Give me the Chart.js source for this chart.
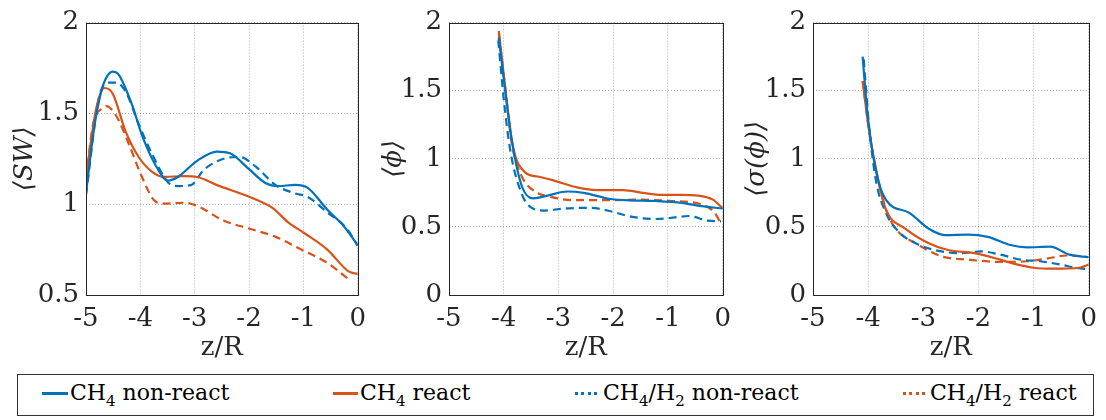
<!DOCTYPE html>
<html><head><meta charset="utf-8">
<script src="https://cdn.jsdelivr.net/npm/chart.js@4.4.1/dist/chart.umd.min.js"></script>
<style>
html,body{margin:0;padding:0;background:#fff;}
#wrap{position:relative;width:1106px;height:420px;overflow:hidden;background:#fff;font-family:'DejaVu Serif',serif;color:#000;}
.pane{position:absolute;top:0;}
#legend{position:absolute;left:17px;top:374px;width:1077px;height:42px;box-sizing:border-box;border:1px solid #333;}
.sample{position:absolute;height:3px;}
.txt{position:absolute;top:381.7px;font-size:22px;line-height:22px;white-space:nowrap;}
.sub{font-size:15px;position:relative;top:6px;line-height:0;}
</style></head>
<body>
<div id="wrap">
  <div class="pane" style="left:0;width:375px;height:370px"><canvas id="c1" width="375" height="370"></canvas></div>
  <div class="pane" style="left:375px;width:365px;height:370px"><canvas id="c2" width="365" height="370"></canvas></div>
  <div class="pane" style="left:740px;width:366px;height:370px"><canvas id="c3" width="366" height="370"></canvas></div>
  <div id="legend"></div>
  <div class="sample" style="left:42px;top:391.5px;width:26px;background:#0072BD"></div>
  <div class="txt" style="left:70px">CH<span class="sub">4</span> non-react</div>
  <div class="sample" style="left:333px;top:391.5px;width:25px;background:#D95319"></div>
  <div class="txt" style="left:360px">CH<span class="sub">4</span> react</div>
  <div class="sample" style="left:575px;top:391.5px;width:25px;background:repeating-linear-gradient(to right,#0072BD 0 3px,transparent 3px 6.3px)"></div>
  <div class="txt" style="left:603px">CH<span class="sub">4</span>/H<span class="sub">2</span> non-react</div>
  <div class="sample" style="left:903px;top:391.5px;width:25px;background:repeating-linear-gradient(to right,#D95319 0 3px,transparent 3px 6.3px)"></div>
  <div class="txt" style="left:930px">CH<span class="sub">4</span>/H<span class="sub">2</span> react</div>
</div>
<script>
// ---- tick values ----
const xTicks = [-5, -4, -3, -2, -1, 0];
const swTicks = [0.5, 1, 1.5, 2];
const phiTicks = [0, 0.5, 1, 1.5, 2];

// ---- series names ----
const seriesNames = ['CH4 non-react', 'CH4 react', 'CH4/H2 non-react', 'CH4/H2 react'];

// ---- panel 1: <SW> ----
const swCh4NonReact = [[-5,1.06],[-4.85,1.42],[-4.72,1.62],[-4.64,1.69],[-4.51,1.73],[-4.39,1.71],[-4.15,1.545],[-3.97,1.38],[-3.73,1.22],[-3.49,1.13],[-3.31,1.15],[-2.95,1.24],[-2.59,1.29],[-2.35,1.28],[-1.99,1.19],[-1.69,1.115],[-1.46,1.10],[-1.16,1.106],[-0.92,1.09],[-0.56,0.97],[-0.26,0.88],[0,0.775]];
const swCh4React = [[-5,1.15],[-4.81,1.53],[-4.66,1.64],[-4.51,1.61],[-4.27,1.40],[-4.03,1.26],[-3.79,1.18],[-3.55,1.15],[-3.19,1.155],[-2.95,1.15],[-2.59,1.105],[-1.99,1.04],[-1.57,0.98],[-1.28,0.90],[-0.98,0.84],[-0.56,0.75],[-0.17,0.63],[0,0.615]];
const swH2NonReact = [[-5,1.05],[-4.75,1.60],[-4.57,1.67],[-4.45,1.67],[-4.27,1.62],[-4.03,1.44],[-3.79,1.28],[-3.49,1.12],[-3.31,1.10],[-3.07,1.105],[-2.83,1.19],[-2.47,1.25],[-2.17,1.26],[-1.87,1.205],[-1.51,1.105],[-1.16,1.06],[-0.92,1.04],[-0.56,0.955],[-0.20,0.865],[0,0.77]];
const swH2React = [[-5,1.14],[-4.87,1.44],[-4.69,1.53],[-4.63,1.54],[-4.45,1.49],[-4.21,1.33],[-3.97,1.15],[-3.73,1.017],[-3.55,1.003],[-3.19,1.008],[-2.95,0.99],[-2.47,0.91],[-1.99,0.865],[-1.51,0.82],[-1.04,0.75],[-0.56,0.677],[-0.14,0.58]];

// ---- panel 2: <phi> ----
const phiCh4NonReact = [[-4.09,1.89],[-3.97,1.49],[-3.85,1.13],[-3.67,0.80],[-3.46,0.71],[-3.20,0.73],[-2.84,0.76],[-2.54,0.75],[-2.06,0.705],[-1.70,0.695],[-1.22,0.69],[-0.75,0.677],[-0.39,0.653],[0,0.635]];
const phiCh4React = [[-4.09,1.94],[-3.97,1.51],[-3.84,1.106],[-3.61,0.90],[-3.38,0.87],[-3.08,0.84],[-2.66,0.79],[-2.30,0.77],[-1.82,0.77],[-1.46,0.75],[-1.11,0.735],[-0.75,0.735],[-0.45,0.73],[-0.18,0.70],[0,0.635]];
const phiH2NonReact = [[-4.10,1.87],[-4.0,1.44],[-3.88,1.06],[-3.67,0.74],[-3.49,0.64],[-3.26,0.62],[-2.90,0.635],[-2.42,0.64],[-2.00,0.61],[-1.70,0.577],[-1.22,0.558],[-0.87,0.57],[-0.63,0.58],[-0.27,0.546],[-0.03,0.54]];
const phiH2React = [[-4.09,1.92],[-3.97,1.51],[-3.85,1.106],[-3.67,0.87],[-3.43,0.76],[-3.14,0.72],[-2.72,0.696],[-2.12,0.696],[-1.52,0.70],[-0.93,0.69],[-0.39,0.665],[-0.15,0.605],[-0.03,0.52]];

// ---- panel 3: <sigma(phi)> ----
const sigCh4NonReact = [[-4.10,1.75],[-4.01,1.32],[-3.86,0.915],[-3.68,0.70],[-3.26,0.605],[-2.90,0.486],[-2.61,0.44],[-2.19,0.443],[-1.83,0.427],[-1.42,0.367],[-1.12,0.35],[-0.70,0.355],[-0.35,0.296],[0,0.277]];
const sigCh4React = [[-4.10,1.57],[-3.98,1.20],[-3.83,0.868],[-3.68,0.63],[-3.32,0.486],[-2.90,0.38],[-2.55,0.33],[-2.07,0.307],[-1.71,0.272],[-1.36,0.23],[-1.0,0.20],[-0.64,0.193],[-0.17,0.20],[0,0.224]];
const sigH2NonReact = [[-4.08,1.73],[-3.98,1.225],[-3.86,0.844],[-3.68,0.605],[-3.44,0.462],[-3.14,0.38],[-2.79,0.33],[-2.31,0.307],[-1.95,0.32],[-1.60,0.296],[-1.24,0.26],[-0.88,0.248],[-0.52,0.224],[-0.23,0.20],[0,0.188]];
const sigH2React = [[-4.10,1.57],[-3.98,1.20],[-3.83,0.868],[-3.68,0.63],[-3.5,0.486],[-3.14,0.38],[-2.67,0.284],[-2.19,0.26],[-1.60,0.243],[-1.12,0.248],[-0.76,0.267],[-0.40,0.29],[-0.05,0.284]];

const BLUE = '#0072BD', ORANGE = '#D95319';
const FONT = "'DejaVu Serif', serif";

const frame = {
  id: 'frame',
  afterDraw(chart) {
    const {ctx, chartArea: a} = chart;
    ctx.save();
    ctx.strokeStyle = '#262626';
    ctx.lineWidth = 1;
    ctx.strokeRect(Math.round(a.left) + 0.5, Math.round(a.top) + 0.5, Math.round(a.right - a.left), Math.round(a.bottom - a.top));
    ctx.restore();
  }
};

function ds(label, pts, color, dashed) {
  return {
    label, data: pts.map(p => ({x: p[0], y: p[1]})),
    borderColor: color, backgroundColor: color, borderWidth: 2.2,
    borderDash: dashed ? [8, 5] : [], pointRadius: 0, fill: false,
    cubicInterpolationMode: 'monotone'
  };
}

function makeChart(id, sets, yTitle, yTicks, yWidth, rightPad, titlePad) {
  new Chart(document.getElementById(id), {
    type: 'line',
    data: {datasets: [
      ds(seriesNames[0], sets[0], BLUE, false),
      ds(seriesNames[1], sets[1], ORANGE, false),
      ds(seriesNames[2], sets[2], BLUE, true),
      ds(seriesNames[3], sets[3], ORANGE, true)
    ]},
    options: {
      responsive: false, animation: false, devicePixelRatio: 1,
      layout: {padding: {left: 0, right: rightPad, top: 15, bottom: 0}},
      plugins: {legend: {display: false}, tooltip: {enabled: false}},
      scales: {
        x: {
          type: 'linear', min: xTicks[0], max: xTicks[xTicks.length - 1],
          afterBuildTicks: s => { s.ticks = xTicks.map(v => ({value: v})); },
          afterFit: s => { s.height = 75; },
          grid: {color: 'rgba(0,0,0,0.3)', lineWidth: 1, drawTicks: false},
          border: {display: false, dash: [1, 2]},
          ticks: {color: '#262626', font: {family: FONT, size: 26}, padding: 9, maxRotation: 0, callback: v => String(v)},
          title: {display: true, text: 'z/R', color: '#262626', font: {family: FONT, size: 26}, padding: {top: 0, bottom: 6}}
        },
        y: {
          type: 'linear', min: yTicks[0], max: yTicks[yTicks.length - 1],
          afterBuildTicks: s => { s.ticks = yTicks.map(v => ({value: v})); },
          afterFit: s => { s.width = yWidth; },
          grid: {color: 'rgba(0,0,0,0.3)', lineWidth: 1, drawTicks: false},
          border: {display: false, dash: [1, 2]},
          ticks: {color: '#262626', font: {family: FONT, size: 26}, padding: 7, callback: v => String(v)},
          title: {display: true, text: yTitle, color: '#262626', font: {family: FONT, size: 26, style: 'italic'}, padding: {top: titlePad, bottom: 0}}
        }
      }
    },
    plugins: [frame]
  });
}

makeChart('c1', [swCh4NonReact, swCh4React, swH2NonReact, swH2React], '⟨SW⟩', swTicks, 86, 11, 10);
makeChart('c2', [phiCh4NonReact, phiCh4React, phiH2NonReact, phiH2React], '⟨ϕ⟩', phiTicks, 74, 12, 4);
makeChart('c3', [sigCh4NonReact, sigCh4React, sigH2NonReact, sigH2React], '⟨σ(ϕ)⟩', phiTicks, 73, 13, 2);
</script>
</body></html>
